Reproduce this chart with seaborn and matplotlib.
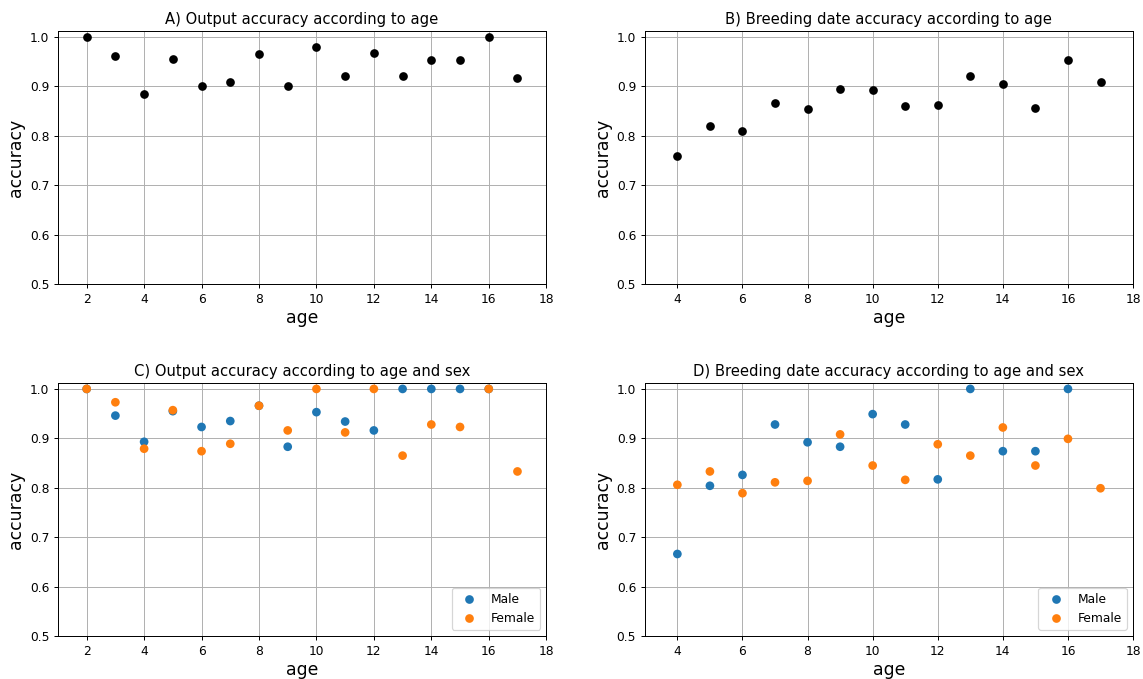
import matplotlib
matplotlib.use("Agg")
import matplotlib.pyplot as plt
import seaborn as sns
import pandas as pd

# Panel A: output accuracy by age
ages_a = [2, 3, 4, 5, 6, 7, 8, 9, 10, 11, 12, 13, 14, 15, 16, 17]
acc_a = [1.0, 0.961, 0.884, 0.956, 0.900, 0.909, 0.965, 0.900, 0.980, 0.920,
         0.967, 0.922, 0.954, 0.954, 1.0, 0.917]

# Panel B: breeding date accuracy by age
ages_b = [4, 5, 6, 7, 8, 9, 10, 11, 12, 13, 14, 15, 16, 17]
acc_b = [0.760, 0.819, 0.809, 0.866, 0.854, 0.895, 0.892, 0.861, 0.863, 0.922,
         0.904, 0.857, 0.953, 0.909]

# Panel C: output accuracy by age and sex
ages_c_male = [2, 3, 4, 5, 6, 7, 8, 9, 10, 11, 12, 13, 14, 15, 16]
acc_c_male = [1.0, 0.946, 0.893, 0.955, 0.923, 0.935, 0.966, 0.883, 0.953, 0.934,
              0.916, 1.0, 1.0, 1.0, 1.0]
ages_c_female = [2, 3, 4, 5, 6, 7, 8, 9, 10, 11, 12, 13, 14, 15, 16, 17]
acc_c_female = [1.0, 0.973, 0.879, 0.957, 0.874, 0.889, 0.966, 0.916, 1.0, 0.912,
                1.0, 0.865, 0.928, 0.923, 1.0, 0.833]

# Panel D: breeding date accuracy by age and sex
ages_d_male = [4, 5, 6, 7, 8, 9, 10, 11, 12, 13, 14, 15, 16]
acc_d_male = [0.666, 0.804, 0.826, 0.928, 0.892, 0.883, 0.949, 0.928, 0.817, 1.0,
              0.874, 0.874, 1.0]
ages_d_female = [4, 5, 6, 7, 8, 9, 10, 11, 12, 13, 14, 15, 16, 17]
acc_d_female = [0.806, 0.833, 0.789, 0.811, 0.814, 0.908, 0.845, 0.816, 0.888, 0.865,
                0.922, 0.845, 0.899, 0.799]

sex_labels = ["Male", "Female"]
titles = ["A) Output accuracy according to age",
          "B) Breeding date accuracy according to age",
          "C) Output accuracy according to age and sex",
          "D) Breeding date accuracy according to age and sex"]
yticks = [0.5, 0.6, 0.7, 0.8, 0.9, 1.0]


def sexed(ages_m, acc_m, ages_f, acc_f):
    return pd.DataFrame({
        "age": list(ages_m) + list(ages_f),
        "accuracy": list(acc_m) + list(acc_f),
        "sex": [sex_labels[0]] * len(ages_m) + [sex_labels[1]] * len(ages_f),
    })


DPI = 88.5
fig, axes = plt.subplots(2, 2, figsize=(1143 / DPI, 679 / DPI), dpi=DPI)
fig.subplots_adjust(left=0.0507, right=0.9913, top=0.9543, bottom=0.0633,
                    wspace=0.202, hspace=0.391)

palette = {"Male": "#1f77b4", "Female": "#ff7f0e"}
MS = 50

dfa = pd.DataFrame({"age": ages_a, "accuracy": acc_a})
dfb = pd.DataFrame({"age": ages_b, "accuracy": acc_b})
dfc = sexed(ages_c_male, acc_c_male, ages_c_female, acc_c_female)
dfd = sexed(ages_d_male, acc_d_male, ages_d_female, acc_d_female)

sns.scatterplot(data=dfa, x="age", y="accuracy", ax=axes[0, 0], color="black",
                s=MS, linewidth=0, zorder=3)
sns.scatterplot(data=dfb, x="age", y="accuracy", ax=axes[0, 1], color="black",
                s=MS, linewidth=0, zorder=3)
sns.scatterplot(data=dfc, x="age", y="accuracy", hue="sex", hue_order=sex_labels,
                palette=palette, ax=axes[1, 0], s=MS, linewidth=0, zorder=3)
sns.scatterplot(data=dfd, x="age", y="accuracy", hue="sex", hue_order=sex_labels,
                palette=palette, ax=axes[1, 1], s=MS, linewidth=0, zorder=3)

xlims = [(1, 18), (3, 18), (1, 18), (3, 18)]
for ax, title, xl in zip(axes.flat, titles, xlims):
    ax.set_title(title, fontsize=12)
    ax.set_xlabel("age", fontsize=14, labelpad=2.5)
    ax.set_ylabel("accuracy", fontsize=14)
    ax.set_xlim(*xl)
    ax.set_ylim(0.5, 1.012)
    ax.set_xticks([t for t in range(2, 19, 2) if t > xl[0]])
    ax.set_yticks(yticks)
    ax.tick_params(labelsize=10)
    ax.grid(True, color="#b0b0b0", linewidth=0.8)
    ax.set_axisbelow(True)

for ax in axes[1]:
    sns.move_legend(ax, "lower right", title=None, fontsize=10)

fig.savefig("out.png", dpi=DPI)
